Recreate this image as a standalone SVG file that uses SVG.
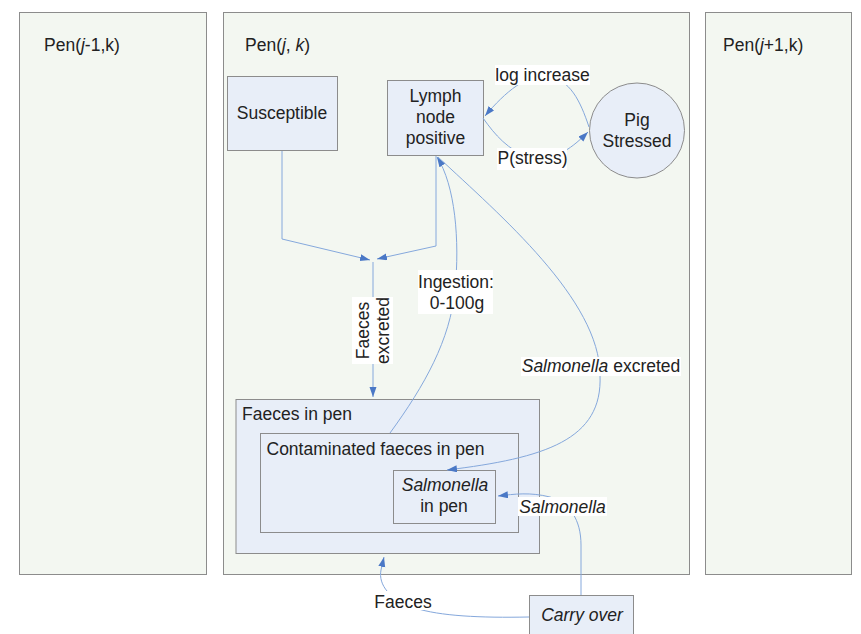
<svg xmlns="http://www.w3.org/2000/svg" width="861" height="634" viewBox="0 0 861 634">
<style>
text{font-family:"Liberation Sans",Arial,sans-serif;font-size:17.5px;fill:#222}
.pen{fill:#f3f7f1;stroke:#8c8c8c;stroke-width:1}
.node{fill:#e8eef8;stroke:#8c8c8c;stroke-width:1}
.c{fill:none;stroke:#85a8dc;stroke-width:1}
.lbl{fill:#ffffff;stroke:none}
.m{text-anchor:middle}
</style>
<defs>
<marker id="ah" markerUnits="userSpaceOnUse" markerWidth="11" markerHeight="8" refX="10" refY="3.5" orient="auto">
<path d="M0,0 L10,3.5 L0,7 z" fill="#4a78c6"/>
</marker>
</defs>
<rect width="861" height="634" fill="#ffffff"/>
<g id="pen-left"><rect class="pen" x="19.5" y="12.5" width="187" height="562"/><text x="44" y="51">Pen(<tspan font-style="italic">j</tspan>-1,k)</text></g>
<g id="pen-mid"><rect class="pen" x="223.5" y="12.5" width="466" height="562"/><text x="245" y="51">Pen(<tspan font-style="italic">j</tspan>, <tspan font-style="italic">k</tspan>)</text></g>
<g id="pen-right"><rect class="pen" x="705.5" y="12.5" width="146" height="562"/><text x="723" y="51">Pen(<tspan font-style="italic">j</tspan>+1,k)</text></g>
<g id="susceptible"><rect class="node" x="227.5" y="76.5" width="110" height="74"/><text class="m" x="282" y="119">Susceptible</text></g>
<g id="lymph"><rect class="node" x="387.5" y="80.5" width="96" height="75"/><text class="m" x="435.5" y="102">Lymph</text><text class="m" x="435.5" y="123">node</text><text class="m" x="435.5" y="144">positive</text></g>
<g id="pig"><circle class="node" cx="637" cy="130.5" r="47.5"/><text class="m" x="637" y="126">Pig</text><text class="m" x="637" y="147">Stressed</text></g>
<g id="faeces-pen"><rect class="node" x="236" y="399.5" width="303.5" height="154"/><text x="242" y="420">Faeces in pen</text></g>
<g id="contaminated"><rect class="node" x="260.5" y="433.5" width="258" height="99"/><text x="266.5" y="455">Contaminated faeces in pen</text></g>
<g id="salmonella-pen"><rect class="node" x="393.5" y="470.5" width="102" height="53"/><text class="m" x="445" y="491" font-style="italic">Salmonella</text><text class="m" x="444" y="512">in pen</text></g>
<g id="carry-over"><rect class="node" x="529.5" y="595.5" width="104" height="45"/><text class="m" x="582" y="621" font-style="italic">Carry over</text></g>
<g id="connectors">
<path class="c" d="M282,151 L282,239 L370,260" marker-end="url(#ah)"/>
<path class="c" d="M436,156 L436,246 L377,259" marker-end="url(#ah)"/>
<path class="c" d="M373,262 L373,397" marker-end="url(#ah)"/>
<path class="c" d="M589,127 C580,100 570,80 548,76 C528,73 505,92 485,116" marker-end="url(#ah)"/>
<path class="c" d="M483,118 C495,135 508,150 530,158 C555,163 575,145 588,132" marker-end="url(#ah)"/>
<path class="c" d="M390,433 C425,385 450,340 455,290 C460,240 455,185 437,157" marker-end="url(#ah)"/>
<path class="c" d="M438,157 C500,215 600,300 600,375 C603,440 545,458 447,470" marker-end="url(#ah)"/>
<path class="c" d="M581,595 L581,545 C581,520 570,503 550,497 C530,492 515,494 498,496" marker-end="url(#ah)"/>
<path class="c" d="M529,617 C480,618 440,616 415,608 C390,600 378,585 381,570 L384,557" marker-end="url(#ah)"/>
<rect class="lbl" x="495" y="65" width="95" height="20"/><text class="m" x="542.5" y="81">log increase</text>
<rect class="lbl" x="497" y="148" width="70" height="22"/><text class="m" x="532.5" y="164">P(stress)</text>
<rect class="lbl" x="352" y="297" width="41" height="67"/>
<g transform="translate(373,330.5) rotate(-90)"><text class="m" x="0" y="-4">Faeces</text><text class="m" x="0" y="16">excreted</text></g>
<rect class="lbl" x="418" y="270" width="75" height="44"/><text class="m" x="456" y="288">Ingestion:</text><text class="m" x="457" y="309">0-100g</text>
<rect class="lbl" x="521" y="357" width="160" height="19"/><text class="m" x="601" y="372"><tspan font-style="italic">Salmonella</tspan> excreted</text>
<rect class="lbl" x="518" y="497" width="89" height="19"/><text class="m" x="562.5" y="513" font-style="italic">Salmonella</text>
<rect class="lbl" x="372" y="591" width="62" height="19"/><text class="m" x="403" y="608">Faeces</text>
</g>
</svg>
